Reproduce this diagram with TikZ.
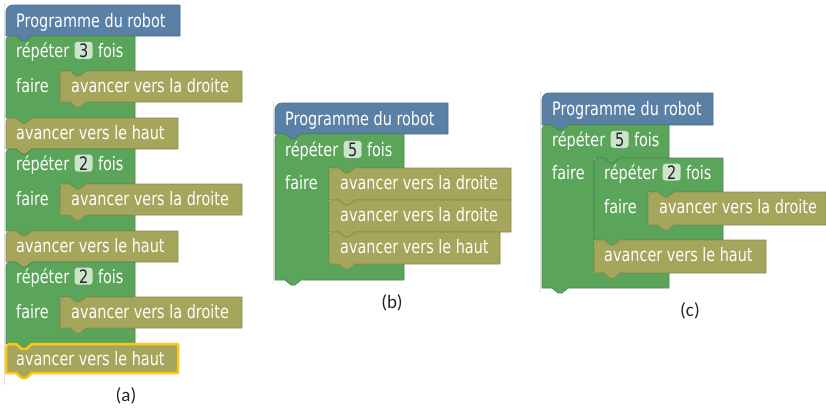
\documentclass[tikz,border=0pt]{standalone}
\usepackage{fontspec}
\newfontfamily\blockfont{DejaVu Sans}[FakeStretch=0.78]
\newfontfamily\capfont{Carlito}
\definecolor{blu}{HTML}{5B80A5}\definecolor{bludk}{HTML}{4A6A8A}
\definecolor{grn}{HTML}{5BA55B}\definecolor{grndk}{HTML}{4A8A4A}
\definecolor{olv}{HTML}{A5A55B}\definecolor{olvdk}{HTML}{8A8A4A}
\definecolor{selyel}{HTML}{FFC61A}
\definecolor{fldcol}{HTML}{CBE4CB}
\newcommand\blkfont{\blockfont\fontsize{18.5pt}{20pt}\selectfont}
% statement block: [opts] x y w h colour
\newcommand\stmt[6][]{\filldraw[fill=#6,draw=#6dk,line width=0.7,line join=round,#1]
 (#2,#3+#5) [rounded corners=4] -- (#2,#3) [sharp corners] -- (#2+10,#3) -- (#2+16,#3+5) -- (#2+20,#3+5) -- (#2+26,#3)
 -- (#2+#4,#3) -- (#2+#4,#3+#5) -- (#2+26,#3+#5) -- (#2+20,#3+#5+5) -- (#2+16,#3+#5+5) -- (#2+10,#3+#5) -- cycle;}
% header block: x y w h
\newcommand\hdr[4]{\filldraw[fill=blu,draw=bludk,line width=0.7,line join=round]
 (#1,#2+#4) [rounded corners=7] -- (#1,#2) [sharp corners] -- (#1+#3,#2) -- (#1+#3,#2+#4)
 -- (#1+26,#2+#4) -- (#1+20,#2+#4+5) -- (#1+16,#2+#4+5) -- (#1+10,#2+#4) -- cycle;}
% C block: x y w a h1 h2 h3
\newcommand\cblock[7]{\filldraw[fill=grn,draw=grndk,line width=0.7,line join=round]
 (#1,#2+#5+#6+#7) [rounded corners=4] -- (#1,#2) [sharp corners] -- (#1+10,#2) -- (#1+16,#2+5) -- (#1+20,#2+5) -- (#1+26,#2)
 -- (#1+#3,#2) -- (#1+#3,#2+#5) -- (#1+#4+26,#2+#5) -- (#1+#4+20,#2+#5+5) -- (#1+#4+16,#2+#5+5) -- (#1+#4+10,#2+#5)
 -- (#1+#4,#2+#5) [rounded corners=4] -- (#1+#4,#2+#5+#6) [sharp corners] -- (#1+#3,#2+#5+#6) -- (#1+#3,#2+#5+#6+#7)
 -- (#1+26,#2+#5+#6+#7) -- (#1+20,#2+#5+#6+#7+5) -- (#1+16,#2+#5+#6+#7+5) -- (#1+10,#2+#5+#6+#7) -- cycle;}
\tikzset{
 txt/.style={font=\blkfont,text=white,inner sep=0pt,anchor=base west},
 fld/.style={font=\blkfont,text=black!85,fill=fldcol,rounded corners=3,inner sep=0pt,
   minimum width=18,minimum height=17,anchor=base west},
 captxt/.style={font=\capfont\fontsize{19pt}{21pt}\selectfont,text=black!85,inner sep=0pt},
 wsedge/.style={draw=black!12,line width=1}
}
\begin{document}
\begin{tikzpicture}[x=1pt,y=-1pt]
\useasboundingbox (0,0) rectangle (826,408);
\fill[white] (0,0) rectangle (826,408);
% faint workspace edges
\draw[wsedge] (4.5,3) -- (4.5,385);
\draw[wsedge] (273.5,101) -- (273.5,284);
\draw[wsedge] (540.5,91) -- (540.5,292);

% ================= panel (a)
\hdr{6}{5}{174}{31}
\cblock{6}{36}{129}{54}{35}{31}{16}
\stmt{60}{71}{182}{31}{olv}
\stmt{6}{118}{172}{31}{olv}
\cblock{6}{149}{129}{54}{35}{31}{16}
\stmt{60}{184}{182}{31}{olv}
\stmt{6}{231}{172}{31}{olv}
\cblock{6}{262}{129}{54}{35}{31}{16}
\stmt{60}{297}{182}{31}{olv}
\stmt[draw=selyel,line width=2.5]{6}{344}{172}{29}{olv}

\node[txt] (ta0) at (16,27) {Programme du robot};
\node[txt] (ra1) at (16,57) {répéter};
\node[fld] (fa1) at ([xshift=5]ra1.base east) {3};
\node[txt] (oa1) at ([xshift=5]fa1.base east) {fois};
\node[txt] (ka1) at (16,92) {faire};
\node[txt] (da1) at (71,92) {avancer vers la droite};
\node[txt] (ha1) at (16,139) {avancer vers le haut};
\node[txt] (ra2) at (16,170) {répéter};
\node[fld] (fa2) at ([xshift=5]ra2.base east) {2};
\node[txt] (oa2) at ([xshift=5]fa2.base east) {fois};
\node[txt] (ka2) at (16,205) {faire};
\node[txt] (da2) at (71,205) {avancer vers la droite};
\node[txt] (ha2) at (16,252) {avancer vers le haut};
\node[txt] (ra3) at (16,283) {répéter};
\node[fld] (fa3) at ([xshift=5]ra3.base east) {2};
\node[txt] (oa3) at ([xshift=5]fa3.base east) {fois};
\node[txt] (ka3) at (16,318) {faire};
\node[txt] (da3) at (71,318) {avancer vers la droite};
\node[txt] (ha3) at (16,365) {avancer vers le haut};
\node[captxt] (capa) at (126,396) {(a)};

% ================= panel (b)
\hdr{275}{103}{173}{31}
\cblock{275}{134}{129}{54}{34}{96}{16}
\stmt{329}{168}{182}{32}{olv}
\stmt{329}{200}{182}{32}{olv}
\stmt{329}{232}{171}{32}{olv}

\node[txt] (tb0) at (285,125) {Programme du robot};
\node[txt] (rb1) at (285,156) {répéter};
\node[fld] (fb1) at ([xshift=5]rb1.base east) {5};
\node[txt] (ob1) at ([xshift=5]fb1.base east) {fois};
\node[txt] (kb1) at (285,189) {faire};
\node[txt] (db1) at (340,189) {avancer vers la droite};
\node[txt] (db2) at (340,221) {avancer vers la droite};
\node[txt] (hb1) at (340,253) {avancer vers le haut};
\node[captxt] (capb) at (392,303) {(b)};

% ================= panel (c)
\hdr{542}{93}{171}{32}
\cblock{542}{125}{127}{52}{33}{115}{15}
\cblock{594}{158}{129}{54}{34}{33}{15}
\stmt{648}{192}{178}{33}{olv}
\stmt{594}{240}{172}{33}{olv}

\node[txt] (tc0) at (552,115) {Programme du robot};
\node[txt] (rc1) at (552,146) {répéter};
\node[fld] (fc1) at ([xshift=5]rc1.base east) {5};
\node[txt] (oc1) at ([xshift=5]fc1.base east) {fois};
\node[txt] (kc1) at (552,179) {faire};
\node[txt] (rc2) at (604,179) {répéter};
\node[fld] (fc2) at ([xshift=5]rc2.base east) {2};
\node[txt] (oc2) at ([xshift=5]fc2.base east) {fois};
\node[txt] (kc2) at (604,213) {faire};
\node[txt] (dc1) at (659,213) {avancer vers la droite};
\node[txt] (hc1) at (604,261) {avancer vers le haut};
\node[captxt] (capc) at (690,311) {(c)};
\end{tikzpicture}
\end{document}
